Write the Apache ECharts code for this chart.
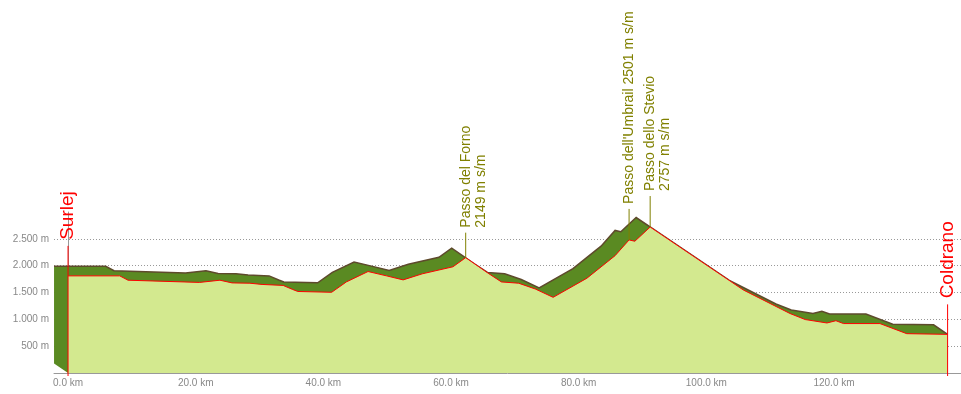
<!DOCTYPE html>
<html><head><meta charset="utf-8">
<script src="https://cdn.jsdelivr.net/npm/echarts@6/dist/echarts.min.js"></script>
<style>html,body{margin:0;padding:0;background:#fff}#chart{width:961px;height:394px}</style>
</head><body><div id="chart"></div>
<script>
// ---- data ----
const distanceKm = [0, 8.1, 9.4, 20.6, 23.8, 25.7, 28.5, 30.4, 33.7, 35.2, 36.0, 41.3, 43.6, 47.0, 49.9, 52.5, 55.5, 60.3, 62.3, 65.8, 67.9, 70.6, 73.2, 76.0, 81.3, 85.7, 87.9, 88.8, 91.2, 105.8, 113.1, 115.5, 118.9, 120.3, 121.5, 127.2, 131.4, 137.8];
const elevationM = [1810, 1810, 1729, 1688, 1729, 1679, 1673, 1650, 1632, 1556, 1519, 1504, 1697, 1891, 1810, 1735, 1848, 1979, 2149, 1861, 1697, 1673, 1566, 1410, 1767, 2186, 2480, 2455, 2720, 1547, 1109, 996, 932, 974, 921, 921, 733, 720];
const passNames = ["Passo del Forno\n2149 m s/m", "Passo dell'Umbrail 2501 m s/m", "Passo dello Stevio\n2757 m s/m"];
const passKm = [62.3, 87.9, 91.2];
const passElev = [2149, 2480, 2720];
const endNames = ["Surlej", "Coldrano"];
const endKm = [0, 137.8];
const endElev = [1810, 720];
const xTickKm = [0, 20, 40, 60, 80, 100, 120];

// ---- styles ----
const X_MIN = -2.2, X_MAX = 139.9;
const DEPTH_X = 14, DEPTH_Y = 9.5;
const LIGHT = '#d3e98f', DARK = '#5a8a22', BROWN = '#5e4a2c';
const OLIVE = '#808000', RED = '#ff0000';
const passLift = [25, 31, 31];

const profile = distanceKm.map((d, i) => [d, elevationM[i]]);

function renderBack(params, api) {
  if (params.dataIndex !== 0) return null;
  const pts = profile.map(p => api.coord(p));
  const n = pts.length;
  const back = pts.map(p => [p[0] - DEPTH_X, p[1] - DEPTH_Y]);
  const b0 = api.coord([distanceKm[0], 0]);
  const bN = api.coord([distanceKm[n - 1], 0]);
  const poly = [[b0[0] - DEPTH_X, b0[1] - DEPTH_Y]].concat(back, [pts[n - 1], bN, b0]);
  return {
    type: 'group', children: [
      { type: 'polygon', shape: { points: poly }, style: { fill: DARK, stroke: null } },
      { type: 'polyline', shape: { points: back.concat([pts[n - 1]]) }, style: { stroke: BROWN, lineWidth: 1.5, fill: null } }
    ]
  };
}

function renderPass(params, api) {
  const i = params.dataIndex;
  const c = api.coord([passKm[i], passElev[i]]);
  const top = c[1] - passLift[i];
  const lh = 15;
  return {
    type: 'group', children: [
      { type: 'line', shape: { x1: c[0], y1: top, x2: c[0], y2: c[1] }, style: { stroke: OLIVE, lineWidth: 1 } },
      { type: 'text', x: c[0] - lh / 2, y: top - 5, rotation: Math.PI / 2,
        style: { text: passNames[i], fill: OLIVE, fontSize: 14, fontFamily: 'Arial, "Liberation Sans", sans-serif', align: 'left', verticalAlign: 'top', lineHeight: lh } }
    ]
  };
}

function renderEnd(params, api) {
  const i = params.dataIndex;
  const c = api.coord([endKm[i], endElev[i]]);
  const base = api.coord([endKm[i], 0]);
  const top = c[1] - 30;
  const lh = 20;
  return {
    type: 'group', children: [
      { type: 'line', shape: { x1: c[0], y1: top, x2: c[0], y2: base[1] + 3 }, style: { stroke: RED, lineWidth: 1 } },
      { type: 'text', x: c[0] - lh / 2, y: top - 6, rotation: Math.PI / 2,
        style: { text: endNames[i], fill: RED, fontSize: 19, fontFamily: 'Arial, "Liberation Sans", sans-serif', align: 'left', verticalAlign: 'top', lineHeight: lh } }
    ]
  };
}

function fmtM(v) {
  return String(v).replace(/\B(?=(\d{3})+(?!\d))/g, '.') + ' m';
}

const chart = echarts.init(document.getElementById('chart'), null, { renderer: 'canvas' });
chart.setOption({
  animation: false,
  backgroundColor: '#fff',
  grid: { left: 54, right: 0, top: 212, bottom: 21, containLabel: false },
  xAxis: {
    type: 'value', min: X_MIN, max: X_MAX,
    axisLine: { show: true, lineStyle: { color: '#999', width: 1 } },
    axisTick: { show: false },
    splitLine: { show: false },
    axisLabel: { customValues: xTickKm, formatter: v => v.toFixed(1) + ' km', color: '#888', fontSize: 10, margin: 5, fontFamily: 'Arial, "Liberation Sans", sans-serif' }
  },
  yAxis: {
    type: 'value', min: 0, max: 3000, interval: 500,
    axisLine: { show: true, lineStyle: { color: '#999', width: 1 } },
    axisTick: { show: false },
    axisLabel: { showMinLabel: false, showMaxLabel: false, formatter: fmtM, color: '#888', fontSize: 10, margin: 5, fontFamily: 'Arial, "Liberation Sans", sans-serif' },
    splitLine: { show: true, showMinLine: false, showMaxLine: false, lineStyle: { color: '#999', type: [1, 2], width: 1 } }
  },
  series: [
    { type: 'custom', z: 1, renderItem: renderBack, data: profile, encode: { x: 0, y: 1 }, silent: true },
    { type: 'line', z: 2, data: profile, symbol: 'none', showSymbol: false,
      lineStyle: { color: RED, width: 1 }, areaStyle: { color: LIGHT, opacity: 1 }, silent: true },
    { type: 'custom', z: 3, renderItem: renderPass, data: passKm.map((k, i) => [k, passElev[i]]), encode: { x: 0, y: 1 }, silent: true },
    { type: 'custom', z: 4, renderItem: renderEnd, data: endKm.map((k, i) => [k, endElev[i]]), encode: { x: 0, y: 1 }, silent: true }
  ]
});
</script></body></html>
